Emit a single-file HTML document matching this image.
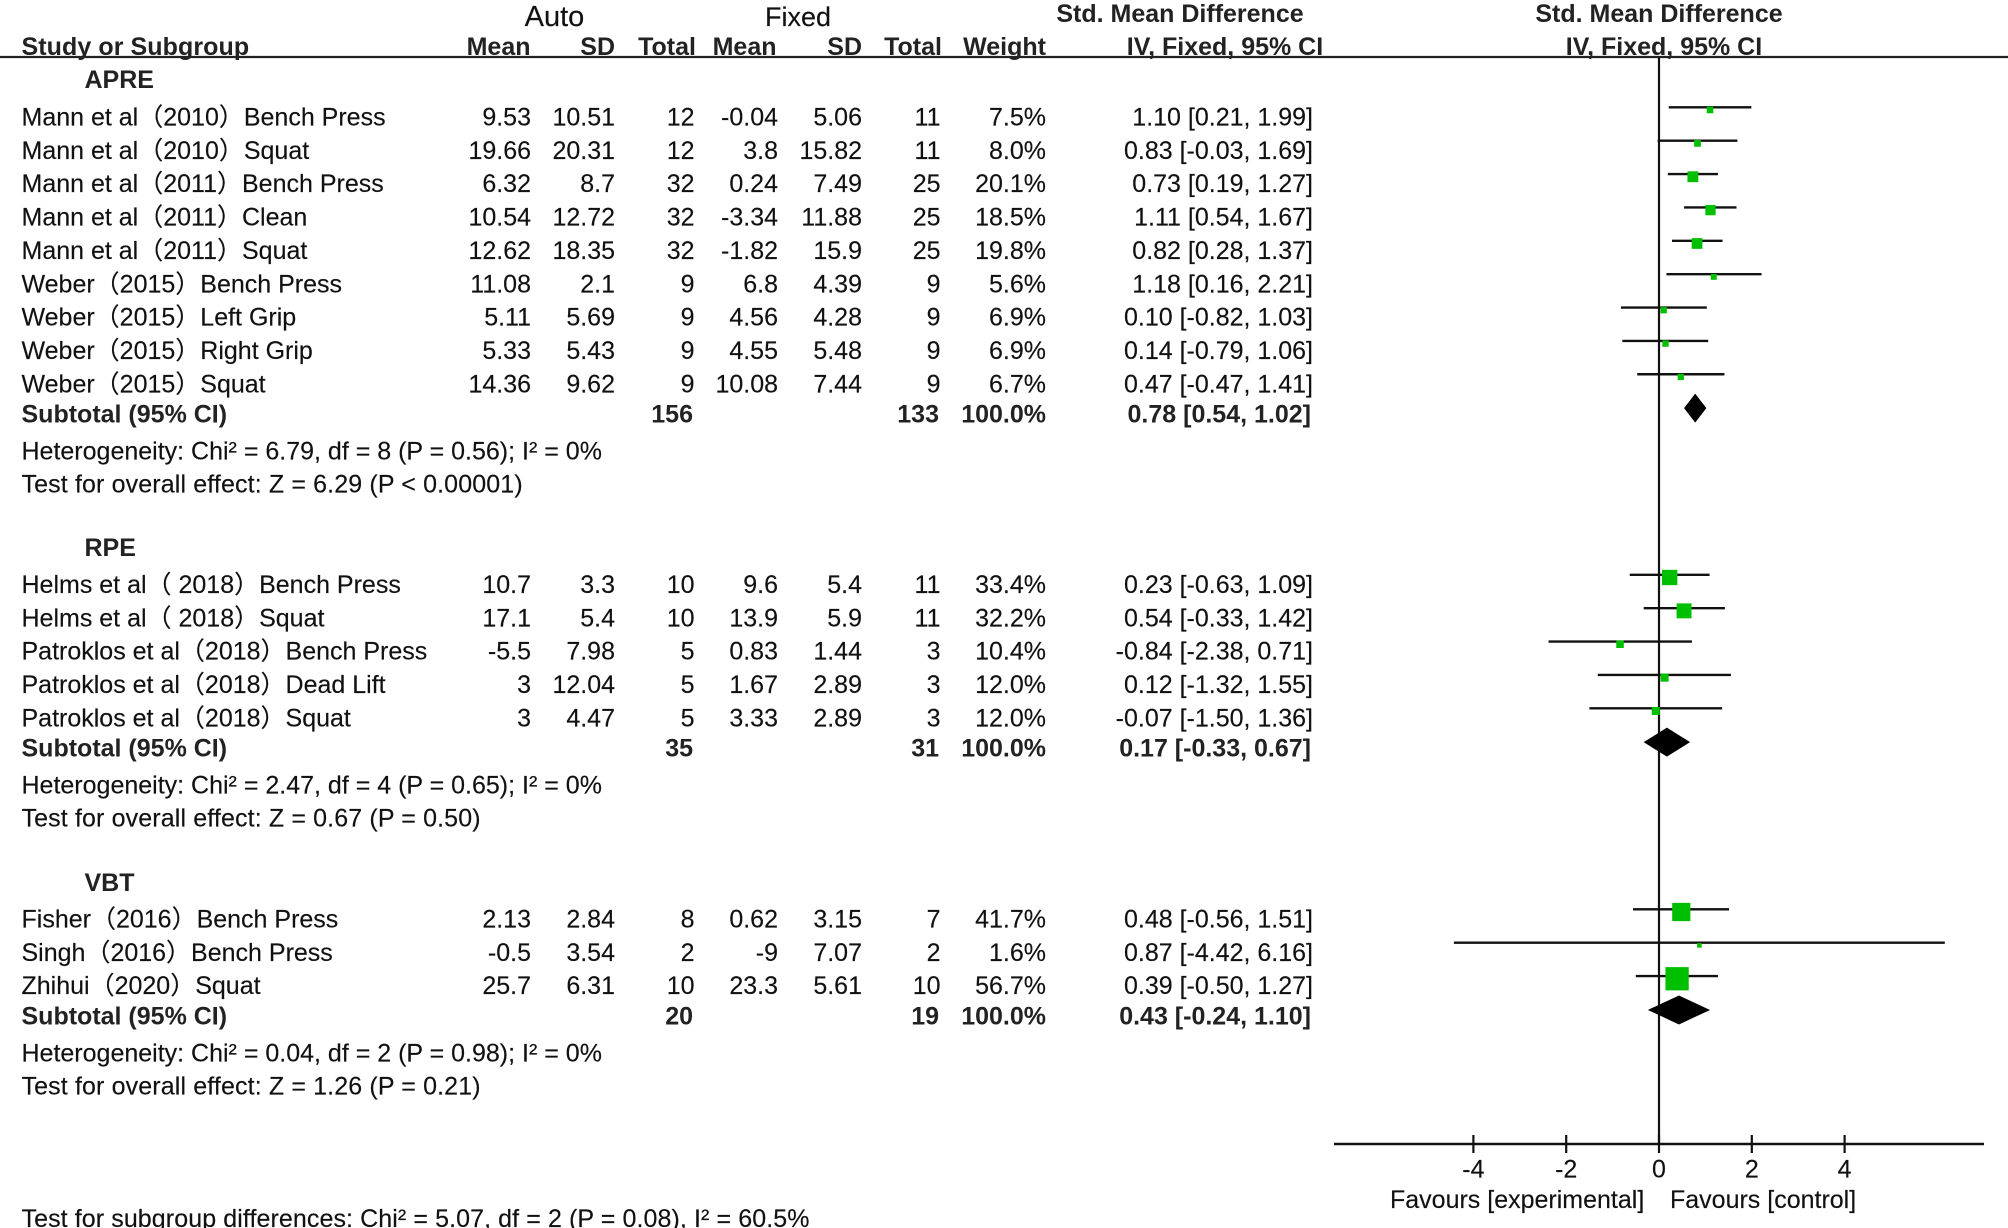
<!DOCTYPE html>
<html lang="en">
<head>
<meta charset="utf-8">
<title>Forest plot: Auto vs Fixed</title>
<style>
html,body{margin:0;padding:0;background:#fff;width:2008px;height:1228px;overflow:hidden}
svg{display:block}
text{font-family:"Liberation Sans","Noto Sans CJK SC",sans-serif;font-size:25px;fill:#111;stroke:#111;stroke-width:0.15px}
.b{font-weight:700;fill:#222;stroke:none}
.e{text-anchor:end}
.m{text-anchor:middle}
.w1{letter-spacing:0.13px}
.w2{letter-spacing:0.09px}
</style>
</head>
<body>
<svg id="chart" xmlns="http://www.w3.org/2000/svg" width="2008" height="1228" viewBox="0 0 2008 1228">
  <rect x="0" y="0" width="2008" height="1228" fill="#fff"/>
  <g>
    <text class="m" x="554.5" y="26" style="font-size:29px">Auto</text>
    <text class="m" x="798" y="26" style="font-size:27px">Fixed</text>
    <text class="b m" x="1180" y="22">Std. Mean Difference</text>
    <text class="b m" x="1659" y="22">Std. Mean Difference</text>
    <text class="b" x="21.5" y="55" style="letter-spacing:0.08px">Study or Subgroup</text>
    <text class="b e" x="530.5" y="55">Mean</text>
    <text class="b e" x="615" y="55">SD</text>
    <text class="b e" x="696" y="55">Total</text>
    <text class="b e" x="776.5" y="55">Mean</text>
    <text class="b e" x="862" y="55">SD</text>
    <text class="b e" x="942" y="55">Total</text>
    <text class="b e" x="1046" y="55">Weight</text>
    <text class="b m" x="1225" y="55">IV, Fixed, 95% CI</text>
    <text class="b m" x="1664" y="55">IV, Fixed, 95% CI</text>
  </g>
  <line x1="0" y1="57" x2="2008" y2="57" stroke="#222" stroke-width="2.2"/>
  <g id="rows"></g>
  <g id="plot"></g>
  <text x="1390" y="1208">Favours [experimental]</text>
  <text x="1670" y="1208">Favours [control]</text>
  <text class="w2" x="21.5" y="1227">Test for subgroup differences: Chi² = 5.07, df = 2 (P = 0.08), I² = 60.5%</text>
</svg>
<script>
const groupNames = ['APRE', 'RPE', 'VBT'];
const groupOf = [0,0,0,0,0,0,0,0,0, 1,1,1,1,1, 2,2,2];
const studyLabels = [
  'Mann et al（2010）Bench Press','Mann et al（2010）Squat','Mann et al（2011）Bench Press',
  'Mann et al（2011）Clean','Mann et al（2011）Squat','Weber（2015）Bench Press',
  'Weber（2015）Left Grip','Weber（2015）Right Grip','Weber（2015）Squat',
  'Helms et al（ 2018）Bench Press','Helms et al（ 2018）Squat','Patroklos et al（2018）Bench Press',
  'Patroklos et al（2018）Dead Lift','Patroklos et al（2018）Squat',
  'Fisher（2016）Bench Press','Singh（2016）Bench Press','Zhihui（2020）Squat'
];
const autoMean = ['9.53','19.66','6.32','10.54','12.62','11.08','5.11','5.33','14.36','10.7','17.1','-5.5','3','3','2.13','-0.5','25.7'];
const autoSd = ['10.51','20.31','8.7','12.72','18.35','2.1','5.69','5.43','9.62','3.3','5.4','7.98','12.04','4.47','2.84','3.54','6.31'];
const autoTotal = [12,12,32,32,32,9,9,9,9,10,10,5,5,5,8,2,10];
const fixedMean = ['-0.04','3.8','0.24','-3.34','-1.82','6.8','4.56','4.55','10.08','9.6','13.9','0.83','1.67','3.33','0.62','-9','23.3'];
const fixedSd = ['5.06','15.82','7.49','11.88','15.9','4.39','4.28','5.48','7.44','5.4','5.9','1.44','2.89','2.89','3.15','7.07','5.61'];
const fixedTotal = [11,11,25,25,25,9,9,9,9,11,11,3,3,3,7,2,10];
const weights = [7.5,8.0,20.1,18.5,19.8,5.6,6.9,6.9,6.7,33.4,32.2,10.4,12.0,12.0,41.7,1.6,56.7];
const smd = [1.10,0.83,0.73,1.11,0.82,1.18,0.10,0.14,0.47,0.23,0.54,-0.84,0.12,-0.07,0.48,0.87,0.39];
const ciLow = [0.21,-0.03,0.19,0.54,0.28,0.16,-0.82,-0.79,-0.47,-0.63,-0.33,-2.38,-1.32,-1.50,-0.56,-4.42,-0.50];
const ciHigh = [1.99,1.69,1.27,1.67,1.37,2.21,1.03,1.06,1.41,1.09,1.42,0.71,1.55,1.36,1.51,6.16,1.27];
const subAutoTotal = [156,35,20];
const subFixedTotal = [133,31,19];
const subWeight = [100,100,100];
const subSmd = [0.78,0.17,0.43];
const subLow = [0.54,-0.33,-0.24];
const subHigh = [1.02,0.67,1.10];
const heterogeneity = [
  'Heterogeneity: Chi² = 6.79, df = 8 (P = 0.56); I² = 0%',
  'Heterogeneity: Chi² = 2.47, df = 4 (P = 0.65); I² = 0%',
  'Heterogeneity: Chi² = 0.04, df = 2 (P = 0.98); I² = 0%'
];
const overallEffect = [
  'Test for overall effect: Z = 6.29 (P < 0.00001)',
  'Test for overall effect: Z = 0.67 (P = 0.50)',
  'Test for overall effect: Z = 1.26 (P = 0.21)'
];
const axisTicks = [-4,-2,0,2,4];

const NS = 'http://www.w3.org/2000/svg';
const rowsG = document.getElementById('rows');
const plotG = document.getElementById('plot');
const xScale = v => 1659 + v * 46.4;
const boxSize = w => 4 + 0.34 * w;
const ciText = (m, l, h) => m.toFixed(2) + ' [' + l.toFixed(2) + ', ' + h.toFixed(2) + ']';

function mk(parent, tag, props) {
  const el = document.createElementNS(NS, tag);
  for (const k in props) {
    el.setAttribute(k, props[k]);
  }
  parent.appendChild(el);
  return el;
}
function txt(x, y, s, cls) {
  const el = mk(rowsG, 'text', {x: x, y: y, class: cls || ''});
  el.textContent = s;
  return el;
}
function seg(x1, y1, x2, y2, w) {
  return mk(plotG, 'line', {x1: x1, y1: y1, x2: x2, y2: y2, stroke: '#111', 'stroke-width': w});
}

const headY = [88, 556, 891];
const firstY = [125, 592.5, 927];
const ROW = 33.37;

const zero = seg(xScale(0), 57, xScale(0), 1144, 2.2);



groupNames.forEach((name, g) => {
  const head = txt(84.5, headY[g], name, 'b');
  
  

  let count = 0;
  studyLabels.forEach((label, i) => {
    if (groupOf[i] !== g) return;
    const y = firstY[g] + ROW * count;
    const ty = y + 0.4;
    count++;

    const t0 = txt(21.5, ty, label);
    
    
    const t1 = txt(531, ty, autoMean[i], 'e');
    
    
    const t2 = txt(615, ty, autoSd[i], 'e');
    
    
    const t3 = txt(694.5, ty, autoTotal[i], 'e');
    
    
    const t4 = txt(778, ty, fixedMean[i], 'e');
    
    
    const t5 = txt(862, ty, fixedSd[i], 'e');
    
    
    const t6 = txt(940.5, ty, fixedTotal[i], 'e');
    
    
    const t7 = txt(1046, ty, weights[i].toFixed(1) + '%', 'e');
    
    
    const t8 = txt(1313, ty, ciText(smd[i], ciLow[i], ciHigh[i]), 'e');
    
    

    const ci = seg(xScale(ciLow[i]), y - 17.7, xScale(ciHigh[i]), y - 17.7, 2.4);
    
    

    const sz = boxSize(weights[i]);
    const box = mk(plotG, 'rect', {x: xScale(smd[i]) - sz / 2, y: y - 15 - sz / 2, width: sz, height: sz, fill: '#00bf00'});
    
    
  });

  const sy = firstY[g] + ROW * (count - 1) + 30.7;
  const s0 = txt(21.5, sy, 'Subtotal (95% CI)', 'b');
  
  
  const s1 = txt(693, sy, subAutoTotal[g], 'b e');
  
  
  const s2 = txt(939, sy, subFixedTotal[g], 'b e');
  
  
  const s3 = txt(1046, sy, subWeight[g].toFixed(1) + '%', 'b e');
  
  
  const s4 = txt(1311, sy, ciText(subSmd[g], subLow[g], subHigh[g]), 'b e');
  
  

  const h = txt(21.5, sy + 37, heterogeneity[g], 'w3');
  
  
  const o = txt(21.5, sy + 70, overallEffect[g], 'w1');
  
  

  const cy = sy - 14.5;
  const pts = [
    [xScale(subLow[g]), cy],
    [xScale(subSmd[g]), cy - 14.5],
    [xScale(subHigh[g]), cy],
    [xScale(subSmd[g]), cy + 14.5]
  ].map(p => p.join(',')).join(' ');
  const d = mk(plotG, 'polygon', {points: pts, fill: '#000'});
  
  
});

const axis = seg(1334, 1144, 1984, 1144, 2.4);



axisTicks.forEach(v => {
  const tick = seg(xScale(v), 1135, xScale(v), 1153, 2.2);
  
  
  const lab = mk(plotG, 'text', {x: xScale(v), y: 1177.5, class: 'm'});
  lab.textContent = v;
  
  
});
</script>
</body>
</html>
